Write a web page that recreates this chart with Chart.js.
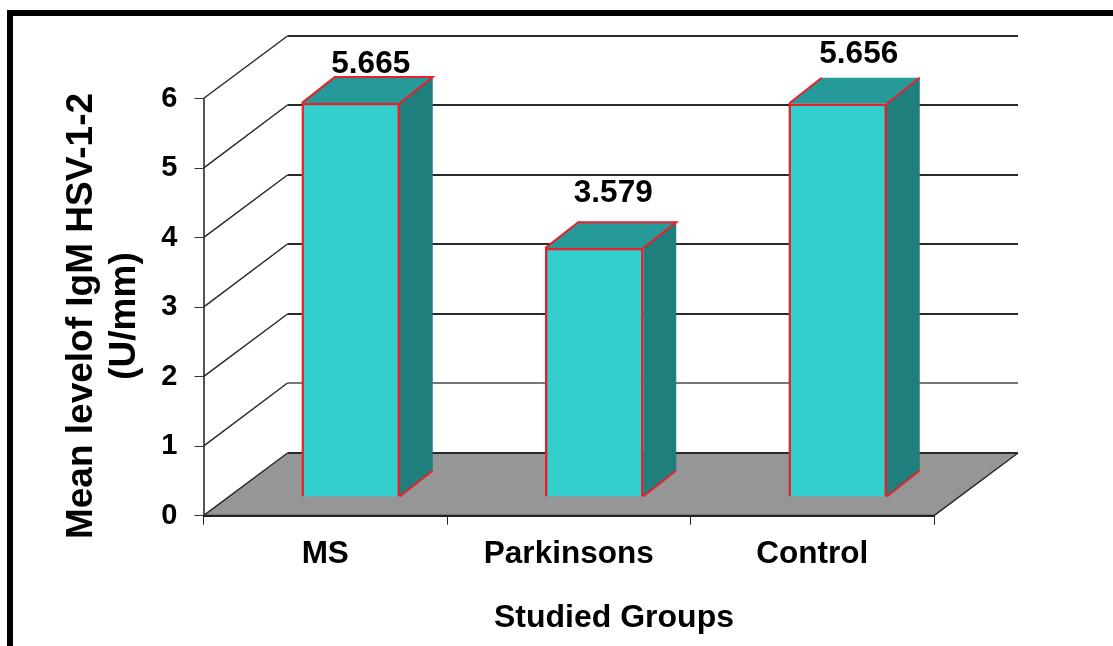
<!DOCTYPE html>
<html lang="en">
<head>
<meta charset="UTF-8">
<title>Mean level of IgM HSV-1-2</title>
<script src="https://cdn.jsdelivr.net/npm/chart.js"></script>
<style>
    html, body { margin: 0; padding: 0; background: #fff; overflow: hidden; }
    #frame { position: absolute; left: 7px; top: 10px; right: 0; bottom: 0; border-left: 6px solid #000; border-top: 6px solid #000; }
    #chart { position: absolute; left: 0; top: 0; }
</style>
</head>
<body>
<div id="frame"></div>
<canvas id="chart" width="1113" height="646"></canvas>
<script>
const groups = ['MS', 'Parkinsons', 'Control'];
const igmLevels = [5.665, 3.579, 5.656];
const labelTexts = ['5.665', '3.579', '5.656'];
const yTitleLines = ['Mean levelof IgM HSV-1-2', '(U/mm)'];
const xTitle = 'Studied Groups';

// 3d look: how far the back wall sits from the front plane
const WALL_DX = 84, WALL_DY = -62.7;
const BAR_DX = 25.5, BAR_DY = -18.7;   // front face of the bars
const SIDE_DX = 33, SIDE_DY = -26;     // depth of a bar
const LABEL_DX = [20, 19, 21];
const LABEL_LIFT = [13, 29, 23];
const FONT = '"Liberation Sans", Arial, sans-serif';

const fake3d = {
    id: 'fake3d',
    beforeDatasetsDraw(chart) {
        const ctx = chart.ctx, a = chart.chartArea, y = chart.scales.y;
        ctx.save();
        // floor
        ctx.beginPath();
        ctx.moveTo(a.left, a.bottom);
        ctx.lineTo(a.left + WALL_DX, a.bottom + WALL_DY);
        ctx.lineTo(a.right + WALL_DX, a.bottom + WALL_DY);
        ctx.lineTo(a.right, a.bottom);
        ctx.closePath();
        ctx.fillStyle = '#969696';
        ctx.fill();
        // wall lines
        for (let v = 0; v <= 6; v++) {
            const py = y.getPixelForValue(v);
            const backY = Math.round(py + WALL_DY);
            ctx.strokeStyle = v == 1 ? '#777' : '#2a2a2a';
            ctx.lineWidth = 2;
            ctx.beginPath();
            ctx.moveTo(a.left + WALL_DX, backY);
            ctx.lineTo(a.right + WALL_DX, backY);
            ctx.stroke();
            ctx.strokeStyle = '#2a2a2a';
            ctx.lineWidth = 1.5;
            ctx.beginPath();
            ctx.moveTo(a.left, py);
            ctx.lineTo(a.left + WALL_DX, backY);
            ctx.stroke();
        }
        // right edge and front edge of the floor
        ctx.beginPath();
        ctx.moveTo(a.right, a.bottom);
        ctx.lineTo(a.right + WALL_DX, a.bottom + WALL_DY);
        ctx.stroke();
        ctx.lineWidth = 2;
        ctx.strokeStyle = '#222';
        ctx.beginPath();
        ctx.moveTo(a.left, a.bottom);
        ctx.lineTo(a.right, a.bottom);
        ctx.stroke();
        ctx.restore();

        // top and side of each bar, behind the front face
        chart.getDatasetMeta(0).data.forEach(function (bar, i) {
            const half = bar.width / 2;
            const l = bar.x - half + BAR_DX, r = bar.x + half + BAR_DX;
            const t = bar.y + BAR_DY, b = bar.base + BAR_DY;
            ctx.save();
            ctx.fillStyle = '#1f7f7c';
            ctx.beginPath();
            ctx.moveTo(r, t);
            ctx.lineTo(r + SIDE_DX, t + SIDE_DY);
            ctx.lineTo(r + SIDE_DX, b + SIDE_DY);
            ctx.lineTo(r, b);
            ctx.closePath();
            ctx.fill();
            ctx.fillStyle = '#269999';
            ctx.beginPath();
            ctx.moveTo(l, t);
            ctx.lineTo(l + SIDE_DX, t + SIDE_DY);
            ctx.lineTo(r + SIDE_DX, t + SIDE_DY);
            ctx.lineTo(r, t);
            ctx.closePath();
            ctx.fill();
            ctx.strokeStyle = '#e8202a';
            ctx.lineWidth = 2;
            ctx.beginPath();
            ctx.moveTo(l, t);
            ctx.lineTo(l + SIDE_DX, t + SIDE_DY);
            if (i == 2) ctx.moveTo(r + SIDE_DX, t + SIDE_DY);
            else ctx.lineTo(r + SIDE_DX, t + SIDE_DY);
            ctx.lineTo(r, t);
            ctx.moveTo(r, b);
            ctx.lineTo(r + SIDE_DX, b + SIDE_DY);
            ctx.stroke();
            ctx.restore();
        });
    },
    beforeDatasetDraw(chart) {
        chart.ctx.save();
        chart.ctx.translate(BAR_DX, BAR_DY);
    },
    afterDatasetDraw(chart) {
        chart.ctx.restore();
    },
    afterDatasetsDraw(chart) {
        const ctx = chart.ctx;
        ctx.save();
        ctx.font = 'bold 31.5px ' + FONT;
        ctx.fillStyle = '#000';
        ctx.textAlign = 'center';
        ctx.textBaseline = 'middle';
        chart.getDatasetMeta(0).data.forEach(function (bar, i) {
            ctx.fillText(labelTexts[i], bar.x + BAR_DX + LABEL_DX[i], bar.y + BAR_DY + SIDE_DY - LABEL_LIFT[i]);
        });

        // axis titles sit off-centre in the original, so they are placed by hand
        ctx.textBaseline = 'alphabetic';
        ctx.font = 'bold 32px ' + FONT;
        ctx.fillText(xTitle, 614, 627);
        ctx.font = 'bold 37px ' + FONT;
        ctx.translate(92, 316);
        ctx.rotate(-Math.PI / 2);
        ctx.fillText(yTitleLines[0], 0, 0);
        ctx.fillText(yTitleLines[1], 0, 43);
        ctx.restore();
    }
};

new Chart(document.getElementById('chart').getContext('2d'), {
    type: 'bar',
    data: {
        labels: groups,
        datasets: [{
            data: igmLevels,
            backgroundColor: '#33cfcf',
            borderColor: '#e8202a',
            borderWidth: 2.5,
            barThickness: 98
        }]
    },
    options: {
        responsive: false,
        animation: false,
        devicePixelRatio: 1,
        layout: { padding: { top: 98.5, right: 179, bottom: 0, left: 0 } },
        plugins: { legend: { display: false }, tooltip: { enabled: false } },
        scales: {
            x: {
                afterFit: function (s) { s.height = 130.3; },
                grid: { offset: true, drawOnChartArea: false, tickLength: 9, color: '#222' },
                border: { color: '#222', width: 2 },
                ticks: { color: '#000', font: { family: FONT, size: 31.5, weight: 'bold' }, padding: 11, maxRotation: 0 }
            },
            y: {
                min: 0,
                max: 6,
                afterFit: function (s) { s.width = 203.5; },
                grid: { drawOnChartArea: false, tickLength: 9, color: '#333' },
                border: { color: '#555', width: 2 },
                ticks: { stepSize: 1, color: '#000', font: { family: FONT, size: 29, weight: 'bold' }, padding: 17 }
            }
        }
    },
    plugins: [fake3d]
});
</script>
</body>
</html>
